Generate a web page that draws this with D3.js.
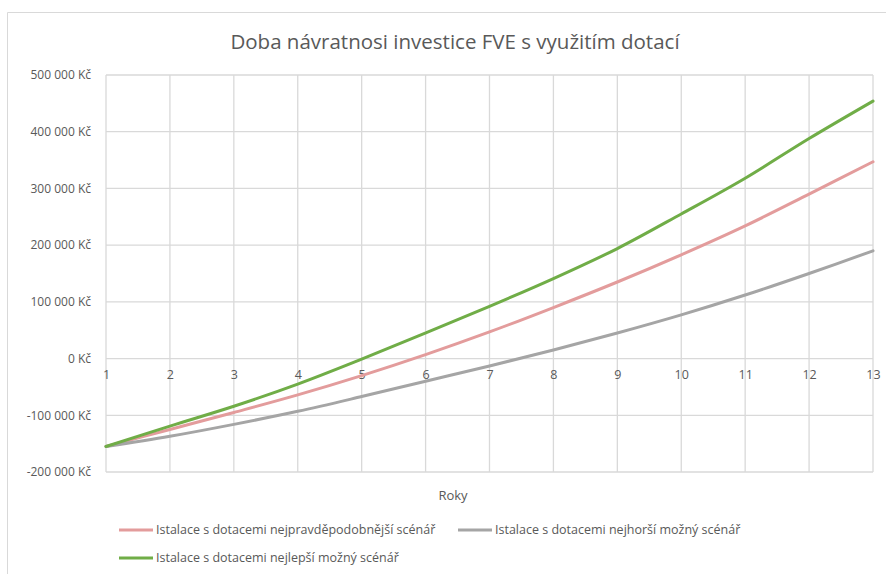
<!DOCTYPE html>
<html lang="cs">
<head>
<meta charset="utf-8">
<title>Doba návratnosi investice FVE</title>
<script src="https://cdn.jsdelivr.net/npm/d3@7"></script>
<style>
  body { margin: 0; background: #fff; }
  svg text { font-family: "Open Sans", sans-serif; fill: #595959; }
</style>
</head>
<body>
<script>
// data (Kč)
var years = [1, 2, 3, 4, 5, 6, 7, 8, 9, 10, 11, 12, 13];
var nejpravdepodobnejsi = [-155000, -125000, -95000, -64000, -30000, 7000, 47000, 90000, 135000, 183000, 234000, 290000, 347000];
var nejhorsi = [-155000, -137000, -116000, -93000, -67000, -40000, -13000, 15000, 45000, 77000, 112000, 150000, 190000];
var nejlepsi = [-155000, -119000, -84000, -45000, -1000, 45000, 92000, 141000, 194000, 255000, 318000, 388000, 454000];
var yTicks = [-200000, -100000, 0, 100000, 200000, 300000, 400000, 500000];
var seriesNames = [
  "Istalace s dotacemi nejpravděpodobnější scénář",
  "Istalace s dotacemi nejhorší možný scénář",
  "Istalace s dotacemi nejlepší možný scénář"
];
var seriesColors = ["#e39c9c", "#a5a5a5", "#70ad47"];

var w = 886, h = 574;
var plotL = 106, plotR = 873, plotT = 75, plotB = 472;

var series = [nejpravdepodobnejsi, nejhorsi, nejlepsi].map(function(vals, i) {
  return { name: seriesNames[i], color: seriesColors[i], values: vals };
});

var cz = d3.formatLocale({ decimal: ",", thousands: "\u00a0", grouping: [3], currency: ["", "\u00a0Kč"], minus: "-" });
var fmt = cz.format("$,.0f");

var svg = d3.select("body").append("svg")
  .attr("width", w)
  .attr("height", h);

// chart frame
svg.append("path")
  .attr("d", "M7.5," + h + "V12.5H" + w)
  .attr("fill", "none")
  .attr("stroke", "#d9d9d9")
  .attr("stroke-width", 1);

var x = d3.scalePoint().domain(years).range([plotL, plotR]);
var y = d3.scaleLinear().domain([-200000, 500000]).range([plotB, plotT]);

// gridlines
svg.append("g")
  .selectAll("line")
  .data(yTicks)
  .enter().append("line")
  .attr("x1", plotL).attr("x2", plotR)
  .attr("y1", function(d) { return y(d); })
  .attr("y2", function(d) { return y(d); })
  .attr("stroke", "#d9d9d9")
  .attr("stroke-width", 1.3);

svg.append("g")
  .selectAll("line")
  .data(years)
  .enter().append("line")
  .attr("x1", function(d) { return x(d); })
  .attr("x2", function(d) { return x(d); })
  .attr("y1", plotT).attr("y2", plotB)
  .attr("stroke", "#d9d9d9")
  .attr("stroke-width", 1.3);

// y axis labels
var yAxis = svg.append("g")
  .attr("transform", "translate(" + plotL + ",0)")
  .call(d3.axisLeft(y).tickValues(yTicks).tickFormat(fmt).tickSize(0).tickPadding(15));
yAxis.select(".domain").remove();
yAxis.selectAll("text").attr("font-size", 12).attr("fill", "#595959")
  .attr("font-family", "Open Sans, sans-serif");

// x axis labels sit on the zero line
var xAxis = svg.append("g")
  .attr("transform", "translate(0," + y(0) + ")")
  .call(d3.axisBottom(x).tickSize(0).tickPadding(12));
xAxis.select(".domain").remove();
xAxis.selectAll("text").attr("font-size", 12.5).attr("fill", "#595959")
  .attr("font-family", "Open Sans, sans-serif");

// lines (smoothed like the original)
var line = d3.line()
  .x(function(d, i) { return x(years[i]); })
  .y(function(d) { return y(d); })
  .curve(d3.curveCatmullRom.alpha(0.5));

svg.append("g")
  .selectAll("path")
  .data(series)
  .enter().append("path")
  .attr("d", function(d) { return line(d.values); })
  .attr("fill", "none")
  .attr("stroke", function(d) { return d.color; })
  .attr("stroke-width", 3)
  .attr("stroke-linecap", "round");

// title
svg.append("text")
  .attr("x", 455).attr("y", 49)
  .attr("text-anchor", "middle")
  .attr("font-size", 20.5)
  .text("Doba návratnosi investice FVE s využitím dotací");

// axis title
svg.append("text")
  .attr("x", 453).attr("y", 500)
  .attr("text-anchor", "middle")
  .attr("font-size", 13)
  .text("Roky");

// legend
var legendPos = [[119, 530], [458, 530], [119, 558]];
var legend = svg.append("g")
  .selectAll("g")
  .data(series)
  .enter().append("g")
  .attr("transform", function(d, i) { return "translate(" + legendPos[i][0] + "," + legendPos[i][1] + ")"; });

legend.append("line")
  .attr("x1", 0).attr("x2", 34)
  .attr("stroke", function(d) { return d.color; })
  .attr("stroke-width", 3);

legend.append("text")
  .attr("x", 37).attr("dy", "0.35em")
  .attr("font-size", 12.5)
  .text(function(d) { return d.name; });
</script>
</body>
</html>
